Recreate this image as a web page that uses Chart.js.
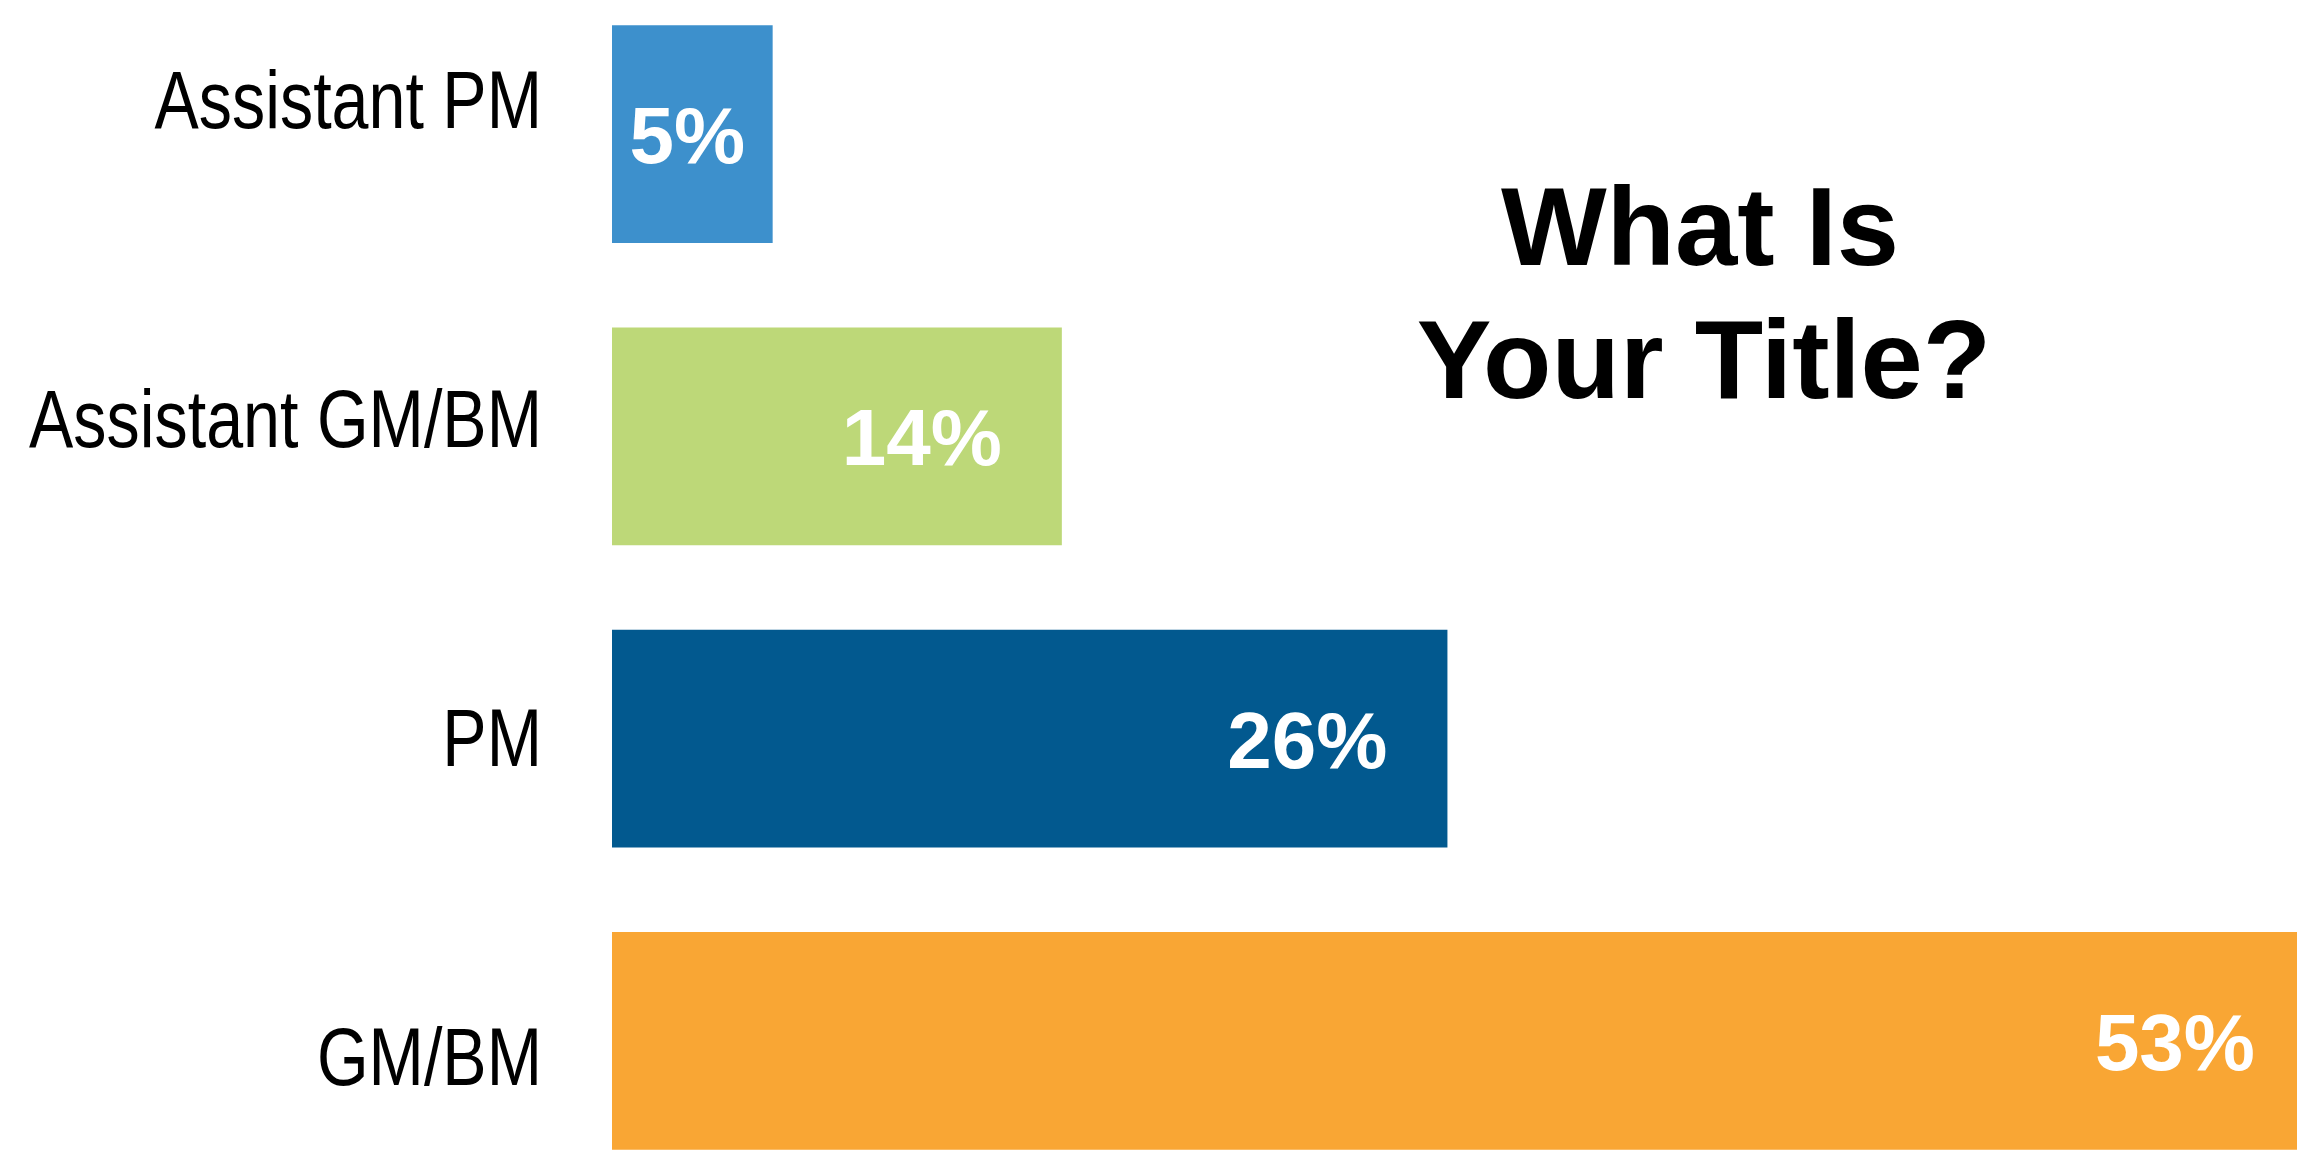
<!DOCTYPE html>
<html>
<head>
<meta charset="utf-8">
<script src="https://cdn.jsdelivr.net/npm/chart.js@4/dist/chart.umd.min.js"></script>
<style>
  html, body { margin: 0; padding: 0; background: #ffffff; }
  #wrap { width: 2297px; height: 1152px; }
</style>
</head>
<body>
<div id="wrap"><canvas id="title-chart" width="2297" height="1152"></canvas></div>
<script>
'use strict';

// data
var titleLabels = ['Assistant PM', 'Assistant GM/BM', 'PM', 'GM/BM'];
var titleShares = [5, 14, 26, 53];
var barColors = ['#3d90cc', '#bdd878', '#02598f', '#f9a634'];
var headingLines = ['What Is', 'Your Title?'];

// NOTE: the bars in the picture run a bit past the top and bottom of the canvas,
// so the y scale is stretched after layout.
var stretchY = {
  id: 'stretchY',
  afterLayout: function(chart) {
    var y = chart.scales.y;
    y.top = -17;
    y.bottom = 1192;
    y.height = y.bottom - y.top;
    y.configure();
    chart.chartArea.top = y.top;
    chart.chartArea.bottom = y.bottom;
    chart.chartArea.height = y.height;
  }
};

// category names, drawn narrow like the condensed face of the original
var categoryNames = {
  id: 'categoryNames',
  afterDraw: function(chart) {
    var ctx = chart.ctx;
    var y = chart.scales.y;
    var mid = (y.getPixelForTick(0) + y.getPixelForTick(titleLabels.length - 1)) / 2;
    ctx.save();
    ctx.font = '82px "Liberation Sans", Arial, sans-serif';
    ctx.fillStyle = '#000000';
    ctx.textAlign = 'right';
    ctx.textBaseline = 'alphabetic';
    titleLabels.forEach(function(name, i) {
      var py = mid + (y.getPixelForTick(i) - mid) * 1.056 - 10;
      ctx.save();
      ctx.translate(chart.chartArea.left - 70, py + 29);
      ctx.scale(0.81, 1);
      ctx.fillText(name, 0, 0);
      ctx.restore();
    });
    ctx.restore();
  }
};

// white percentage text inside each bar
var valueLabels = {
  id: 'valueLabels',
  afterDatasetsDraw: function(chart) {
    var ctx = chart.ctx;
    var meta = chart.getDatasetMeta(0);
    var xScale = chart.scales.x;
    ctx.save();
    ctx.font = 'bold 80px "Liberation Sans", Arial, sans-serif';
    ctx.fillStyle = '#ffffff';
    ctx.textAlign = 'left';
    ctx.textBaseline = 'alphabetic';
    meta.data.forEach(function(bar, i) {
      var text = titleShares[i] + '%';
      var w = ctx.measureText(text).width;
      // bar end from the scale, even when the bar runs past the chart edge
      var end = xScale.getPixelForValue(titleShares[i]);
      var left = end - 60 - w;
      if (left < bar.base + 10) {
        left = (bar.base + end) / 2 - w / 2 - 5;
      }
      ctx.fillText(text, left, bar.y + 29);
    });
    ctx.restore();
  }
};

// the big question on the right
var heading = {
  id: 'heading',
  afterDraw: function(chart) {
    var ctx = chart.ctx;
    ctx.save();
    ctx.font = 'bold 112px "Liberation Sans", Arial, sans-serif';
    ctx.fillStyle = '#000000';
    ctx.textAlign = 'center';
    ctx.textBaseline = 'alphabetic';
    ctx.fillText(headingLines[0], 1700, 265);
    ctx.fillText(headingLines[1], 1704, 398);
    ctx.restore();
  }
};

var ctx = document.getElementById('title-chart').getContext('2d');
var titleChart = new Chart(ctx, {
  type: 'bar',
  data: {
    labels: titleLabels,
    datasets: [{
      data: titleShares,
      backgroundColor: barColors,
      borderWidth: 0,
      categoryPercentage: 1,
      barPercentage: 0.72
    }]
  },
  options: {
    indexAxis: 'y',
    responsive: false,
    animation: false,
    devicePixelRatio: 1,
    layout: {
      padding: 0
    },
    plugins: {
      legend: { display: false },
      tooltip: { enabled: false },
      title: { display: false }
    },
    scales: {
      x: {
        display: false,
        min: 0,
        max: 52.44,
        grid: { display: false }
      },
      y: {
        grid: { display: false, drawTicks: false },
        border: { display: false },
        ticks: { display: false },
        afterFit: function(scale) {
          scale.width = 612;
        }
      }
    }
  },
  plugins: [stretchY, categoryNames, valueLabels, heading]
});
</script>
</body>
</html>
